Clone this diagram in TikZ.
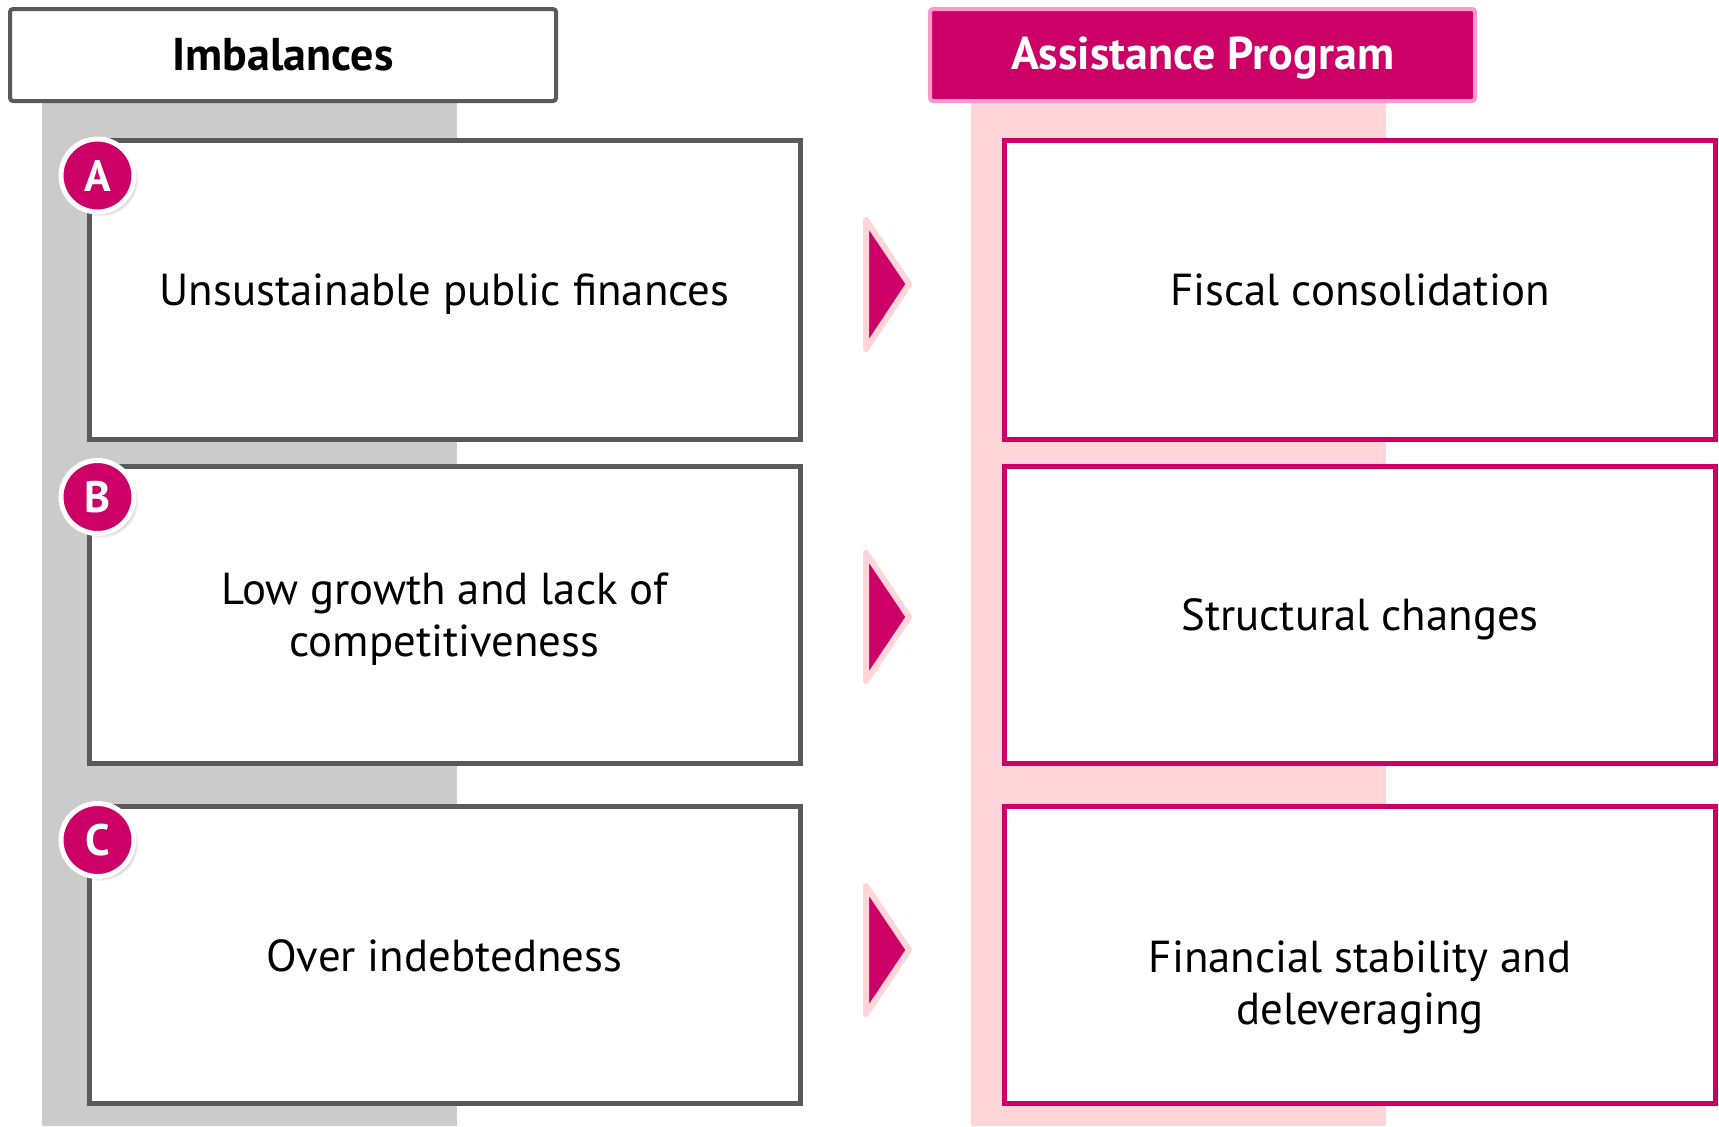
\documentclass[tikz,border=0pt]{standalone}
\usepackage{fontspec}
\setmainfont{PT Sans}
\usetikzlibrary{shadows}
\definecolor{accent}{HTML}{CC0066}
\definecolor{accentlight}{HTML}{FF99CC}
\definecolor{bandpink}{HTML}{FFD5D8}
\definecolor{bandgray}{HTML}{CBCBCB}
\definecolor{edgegray}{HTML}{5A5A5A}
\tikzset{
  hdrbox/.style={rectangle, rounded corners=1.5pt, line width=2pt, minimum width=273pt, minimum height=46pt, font=\fontsize{23}{27}\selectfont\bfseries},
  bodyfont/.style={align=center, font=\fontsize{22.4}{26}\selectfont},
  issuebox/.style={rectangle, draw=edgegray, fill=white, line width=2.5pt, minimum width=355.5pt, minimum height=148.5pt, bodyfont},
  measurebox/.style={issuebox, draw=accent},
  badge/.style={circle, fill=accent, draw=white, line width=2.5pt, minimum size=36.5pt, inner sep=0pt, text=white, font=\fontsize{22}{22}\selectfont\bfseries,
    circular drop shadow={shadow xshift=1.8pt, shadow yshift=-1.8pt, shadow scale=1.02, opacity=0.45}},
  pointer/.style={fill=accent, draw=bandpink, line width=3pt, line join=round}
}
\begin{document}
\begin{tikzpicture}[x=0.5pt, y=-0.5pt]
\useasboundingbox (0,0) rectangle (1719,1126);

% column bands
\fill[bandgray] (42,101) rectangle (457,1126);
\fill[bandpink] (971,101) rectangle (1386,1126);

% column headers
\draw[hdrbox, draw=edgegray, fill=white] (10,9) rectangle (556,101);
\node[font=\fontsize{23}{27}\selectfont\bfseries] (hdrL) at (283,55) {Imbalances};
\draw[hdrbox, draw=accentlight, fill=accent] (930,9) rectangle (1475,101);
\node[font=\fontsize{23}{27}\selectfont\bfseries, text=white] (hdrR) at (1202.5,58) {Assistance Program};

% imbalances
\node[issuebox, minimum height=149.5pt] (issA) at (444.5,289.5) {};
\node[bodyfont] (issAtext) at (444.5,294) {Unsustainable public finances};
\node[issuebox] (issB) at (444.5,614.5) {};
\node[bodyfont] (issBtext) at (444.5,619) {Low growth and lack of\\competitiveness};
\node[issuebox] (issC) at (444.5,954.5) {};
\node[bodyfont] (issCtext) at (444.5,956) {Over indebtedness};

% programme measures
\node[measurebox, minimum height=149.5pt] (msrA) at (1360,289.5) {};
\node[bodyfont] (msrAtext) at (1360,290) {Fiscal consolidation};
\node[measurebox] (msrB) at (1360,614.5) {};
\node[bodyfont] (msrBtext) at (1360,619) {Structural changes};
\node[measurebox] (msrC) at (1360,954.5) {};
\node[bodyfont] (msrCtext) at (1360,987) {Financial stability and\\deleveraging};

% letter badges
\node[badge] (badgeA) at (97.5,175.5) {A};
\node[badge] (badgeB) at (97.5,497) {B};
\node[badge] (badgeC) at (97.5,840) {C};

% arrows between columns
\draw[pointer] (866,220) -- (909,284) -- (866,349) -- cycle;
\draw[pointer] (866,553) -- (909,617) -- (866,681) -- cycle;
\draw[pointer] (866,886) -- (909,950) -- (866,1014) -- cycle;
\end{tikzpicture}
\end{document}
